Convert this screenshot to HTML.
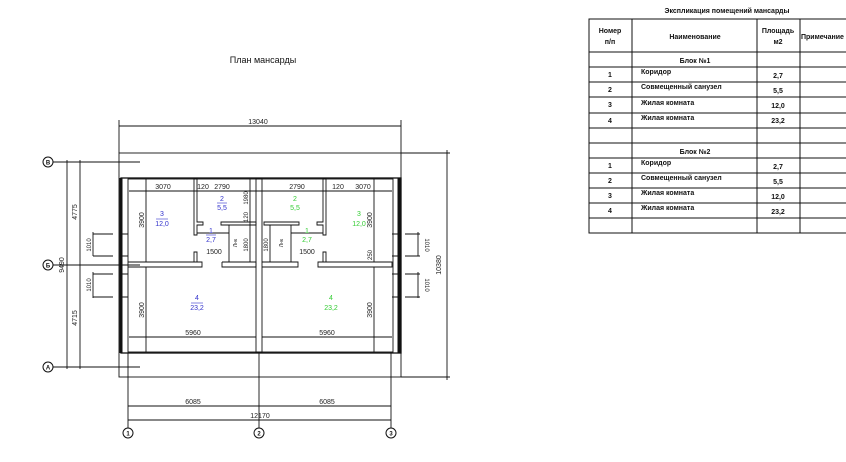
<!DOCTYPE html>
<html><head><meta charset="utf-8"><style>
body{margin:0;background:#fff;width:846px;height:462px;overflow:hidden}
svg{display:block}
text{font-family:"Liberation Sans",sans-serif}
.d{font-size:7px;fill:#222}
.t{font-size:7px;font-weight:bold;fill:#111}
</style></head><body>
<svg width="846" height="462" viewBox="0 0 846 462">
<text x="263" y="63" font-size="9" text-anchor="middle" fill="#111">План  мансарды</text>
<g stroke="#111" stroke-width="0.9" fill="none">
<rect x="119" y="153" width="282" height="224"/>
<line x1="119" y1="126" x2="401" y2="126"/><line x1="119" y1="120" x2="119" y2="153"/><line x1="401" y1="120" x2="401" y2="153"/>
<line x1="401" y1="153" x2="450" y2="153"/><line x1="401" y1="377" x2="450" y2="377"/><line x1="447" y1="150" x2="447" y2="380"/>
<rect x="121" y="178" width="280" height="175" stroke-width="1.3"/>
<rect x="128" y="179" width="265" height="173"/>
<line x1="121" y1="178" x2="121" y2="353" stroke-width="3"/>
<line x1="399" y1="178" x2="399" y2="353" stroke-width="3"/>
<rect x="256" y="179" width="6" height="173"/>
<path d="M128 262H202V267H128M222 262H256V267H222V262M262 262H298V267H262M318 262H392V267H318Z"/>
<path d="M194 179V235H197V225H203V222H197V179Z"/>
<path d="M194 252V262H197V252Z"/>
<path d="M221 222H256V225H221Z"/><line x1="229" y1="225" x2="229" y2="262"/>
<path d="M326 179V235H323V225H317V222H323V179Z"/>
<path d="M326 252V262H323V252Z"/>
<path d="M299 222H264V225H299Z"/><line x1="291" y1="225" x2="291" y2="262"/>
<path d="M121 234H128M121 256H128M121 274H128M121 297H128M392 234H401M392 256H401M392 274H401M392 297H401"/>
<line x1="53" y1="162" x2="140" y2="162"/><line x1="53" y1="265" x2="140" y2="265"/><line x1="53" y1="367" x2="140" y2="367"/>
<line x1="128" y1="353" x2="128" y2="428"/><line x1="259" y1="353" x2="259" y2="428"/><line x1="391" y1="353" x2="391" y2="428"/>
<line x1="67" y1="160" x2="67" y2="369"/><line x1="80" y1="160" x2="80" y2="369"/>
<line x1="93" y1="232" x2="93" y2="256"/><line x1="93" y1="272" x2="93" y2="298"/>
<path d="M93 234H113M93 256H113M93 274H113M93 297H113"/>
<line x1="418" y1="232" x2="418" y2="256"/><line x1="418" y1="272" x2="418" y2="298"/>
<path d="M405 234H420M405 256H420M405 274H420M405 297H420"/>
<line x1="129" y1="191" x2="392" y2="191"/>
<line x1="146" y1="179" x2="146" y2="262"/><line x1="374" y1="179" x2="374" y2="262"/>
<line x1="146" y1="267" x2="146" y2="352"/><line x1="374" y1="267" x2="374" y2="352"/>
<line x1="129" y1="337" x2="256" y2="337"/><line x1="262" y1="337" x2="392" y2="337"/>
<line x1="197" y1="233" x2="229" y2="233"/><line x1="291" y1="233" x2="323" y2="233"/>
<line x1="250" y1="179" x2="250" y2="262"/><line x1="270" y1="225" x2="270" y2="262"/>
<line x1="128" y1="406" x2="391" y2="406"/><line x1="128" y1="420" x2="391" y2="420"/>
</g>
<g fill="#fff" stroke="#111" stroke-width="1">
<circle cx="48" cy="162" r="5"/><circle cx="48" cy="265" r="5"/><circle cx="48" cy="367" r="5"/>
<circle cx="128" cy="433" r="5"/><circle cx="259" cy="433" r="5"/><circle cx="391" cy="433" r="5"/>
</g>
<g font-size="6" text-anchor="middle" font-weight="bold" fill="#111">
<text x="48" y="164.5">В</text><text x="48" y="267.5">Б</text><text x="48" y="369.5">А</text>
<text x="128" y="435.5">1</text><text x="259" y="435.5">2</text><text x="391" y="435.5">3</text>
</g>
<g class="d" text-anchor="middle">
<text x="258" y="124">13040</text>
<text x="163" y="189">3070</text><text x="203" y="189">120</text><text x="222" y="189">2790</text>
<text x="297" y="189">2790</text><text x="338" y="189">120</text><text x="363" y="189">3070</text>
<text x="214" y="254">1500</text><text x="307" y="254">1500</text>
<text x="193" y="335">5960</text><text x="327" y="335">5960</text>
<text x="193" y="404">6085</text><text x="327" y="404">6085</text>
<text x="260" y="418">12170</text>
</g>
<g class="d" text-anchor="middle">
<text transform="translate(77,212) rotate(-90)">4775</text>
<text transform="translate(77,318) rotate(-90)">4715</text>
<text transform="translate(64,265) rotate(-90)">9490</text>
<text transform="translate(91,245) rotate(-90)" font-size="6">1010</text>
<text transform="translate(91,285) rotate(-90)" font-size="6">1010</text>
<text transform="translate(425,245) rotate(90)" font-size="6">1010</text>
<text transform="translate(425,285) rotate(90)" font-size="6">1010</text>
<text transform="translate(441,265) rotate(-90)">10380</text>
<text transform="translate(144,220) rotate(-90)">3900</text>
<text transform="translate(144,310) rotate(-90)">3900</text>
<text transform="translate(372,220) rotate(-90)">3900</text>
<text transform="translate(372,310) rotate(-90)">3900</text>
<text transform="translate(372,255) rotate(-90)" font-size="6">250</text>
<text transform="translate(248,198) rotate(-90)" font-size="6">1980</text>
<text transform="translate(248,217) rotate(-90)" font-size="6">120</text>
<text transform="translate(248,245) rotate(-90)" font-size="6">1800</text>
<text transform="translate(268,245) rotate(-90)" font-size="6">1800</text>
<text transform="translate(237,243) rotate(-90)" font-size="5">Лнк</text>
<text transform="translate(283,243) rotate(-90)" font-size="5">Лнк</text>
</g>
<g font-size="7" text-anchor="middle" fill="#3333cc">
<text x="162" y="216">3</text><text x="162" y="226">12,0</text>
<text x="222" y="201">2</text><text x="222" y="210">5,5</text>
<text x="211" y="233">1</text><text x="211" y="242">2,7</text>
<text x="197" y="300">4</text><text x="197" y="310">23,2</text>
<line x1="156" y1="219" x2="168" y2="219" stroke="#3333cc" stroke-width=".6"/>
<line x1="217" y1="203" x2="227" y2="203" stroke="#3333cc" stroke-width=".6"/>
<line x1="206" y1="235" x2="216" y2="235" stroke="#3333cc" stroke-width=".6"/>
<line x1="191" y1="303" x2="203" y2="303" stroke="#3333cc" stroke-width=".6"/>
</g>
<g font-size="7" text-anchor="middle" fill="#33cc33">
<text x="359" y="216">3</text><text x="359" y="226">12,0</text>
<text x="295" y="201">2</text><text x="295" y="210">5,5</text>
<text x="307" y="233">1</text><text x="307" y="242">2,7</text>
<text x="331" y="300">4</text><text x="331" y="310">23,2</text>
</g>
<text x="727" y="13" class="t" text-anchor="middle">Экспликация помещений мансарды</text>
<g stroke="#111" stroke-width="1" fill="none">
<rect x="589" y="19" width="260" height="214"/>
<line x1="632" y1="19" x2="632" y2="233"/><line x1="757" y1="19" x2="757" y2="233"/><line x1="800" y1="19" x2="800" y2="233"/>
<path d="M589 52H846M589 67H846M589 82H846M589 97H846M589 113H846M589 128H846M589 143H846M589 158H846M589 173H846M589 188H846M589 203H846M589 218H846"/>
</g>
<g class="t">
<text x="610" y="33" text-anchor="middle">Номер</text><text x="610" y="44" text-anchor="middle">п/п</text>
<text x="695" y="39" text-anchor="middle">Наименование</text>
<text x="778" y="33" text-anchor="middle">Площадь</text><text x="778" y="44" text-anchor="middle">м2</text>
<text x="801" y="39">Примечание</text>
<text x="695" y="63" text-anchor="middle">Блок №1</text>
<text x="610" y="77" text-anchor="middle">1</text><text x="641" y="74">Коридор</text><text x="778" y="78" text-anchor="middle">2,7</text>
<text x="610" y="92" text-anchor="middle">2</text><text x="641" y="89">Совмещенный санузел</text><text x="778" y="93" text-anchor="middle">5,5</text>
<text x="610" y="107" text-anchor="middle">3</text><text x="641" y="105">Жилая комната</text><text x="778" y="108" text-anchor="middle">12,0</text>
<text x="610" y="123" text-anchor="middle">4</text><text x="641" y="120">Жилая комната</text><text x="778" y="123" text-anchor="middle">23,2</text>
<text x="695" y="154" text-anchor="middle">Блок №2</text>
<text x="610" y="168" text-anchor="middle">1</text><text x="641" y="165">Коридор</text><text x="778" y="169" text-anchor="middle">2,7</text>
<text x="610" y="183" text-anchor="middle">2</text><text x="641" y="180">Совмещенный санузел</text><text x="778" y="184" text-anchor="middle">5,5</text>
<text x="610" y="198" text-anchor="middle">3</text><text x="641" y="195">Жилая комната</text><text x="778" y="199" text-anchor="middle">12,0</text>
<text x="610" y="213" text-anchor="middle">4</text><text x="641" y="210">Жилая комната</text><text x="778" y="214" text-anchor="middle">23,2</text>
</g>
</svg>
</body></html>
